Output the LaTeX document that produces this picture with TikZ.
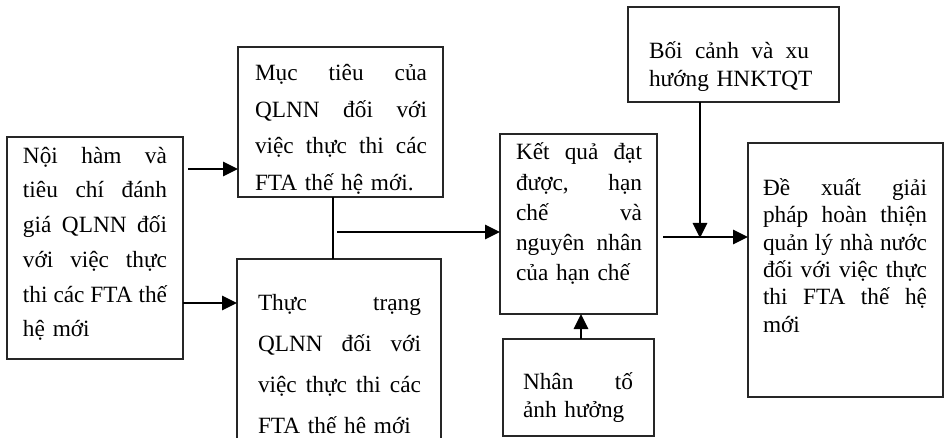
\documentclass[tikz,border=0pt]{standalone}
\usepackage{fontspec}
\setmainfont{Liberation Serif}
\usetikzlibrary{arrows.meta,calc}
\newcommand\jline[2]{\leavevmode\hbox to #1{\spaceskip=0pt\xspaceskip=0pt\relax #2}}
\newcommand\fz[1]{\fontsize{23.3}{#1}\selectfont\parindent=0pt\hyphenpenalty=10000 }
\begin{document}
\begin{tikzpicture}[x=1pt,y=-1pt,
  box/.style={draw=black!85,line width=1.3pt,outer sep=0pt,inner sep=0pt,anchor=north west},
  txt/.style={inner sep=0pt,outer sep=0pt,anchor=north west,align=left},
  arr/.style={line width=2.8pt,-{Triangle[length=15pt,width=14pt]}},
  link/.style={line width=1.4pt}]
\clip (0,0) rectangle (950,438);
\fill[white] (0,0) rectangle (950,438);
% boxes
\node[box,minimum width=176pt,minimum height=222pt] (A) at (7,137) {};
\node[box,minimum width=205pt,minimum height=150pt] (B) at (238,47) {};
\node[box,minimum width=204pt,minimum height=216pt] (C) at (237,259) {};
\node[box,minimum width=157pt,minimum height=180pt] (D) at (500,134) {};
\node[box,minimum width=195pt,minimum height=254pt] (E) at (748,143) {};
\node[box,minimum width=151pt,minimum height=97pt] (F) at (503,339) {};
\node[box,minimum width=211pt,minimum height=95pt] (G) at (628,7) {};
% texts
\node[txt,text width=170pt,font=\fz{34.7}] (tA) at (23,139.0)
  {\strut\jline{144pt}{Nội hàm và}\\\jline{144pt}{tiêu chí đánh}\\\jline{144pt}{giá QLNN đối}\\\jline{144pt}{với việc thực}\\\jline{144pt}{thi các FTA thế}\\\mbox{hệ mới}};
\node[txt,text width=190pt,font=\fz{36.5}] (tB) at (255,55)
  {\strut\jline{172pt}{Mục tiêu của}\\\jline{172pt}{QLNN đối với}\\\jline{172pt}{việc thực thi các}\\\mbox{FTA thế hệ mới.}};
\node[txt,text width=190pt,font=\fz{41}] (tC) at (258,281.8)
  {\strut\jline{163pt}{Thực trạng}\\\jline{163pt}{QLNN đối với}\\\jline{163pt}{việc thực thi các}\\\mbox{FTA thế hê mới}};
\node[txt,text width=150pt,font=\fz{30.3}] (tD) at (516,138.5)
  {\strut\jline{126pt}{Kết quả đạt}\\\jline{126pt}{được, hạn}\\\jline{126pt}{chế và}\\\jline{126pt}{nguyên nhân}\\\mbox{của hạn chế}};
\node[txt,text width=180pt,font=\fz{27.3}] (tE) at (763,176.5)
  {\strut\jline{164pt}{Đề xuất giải}\\\jline{164pt}{pháp hoàn thiện}\\\jline{164pt}{quản lý nhà nước}\\\jline{164pt}{đối với việc thực}\\\jline{164pt}{thi FTA thế hệ}\\\mbox{mới}};
\node[txt,text width=130pt,font=\fz{28}] (tF) at (523,370)
  {\strut\jline{110pt}{Nhân tố}\\\mbox{ảnh hưởng}};
\node[txt,text width=185pt,font=\fz{28}] (tG) at (649,39)
  {\strut\jline{160pt}{Bối cảnh và xu}\\\mbox{hướng HNKTQT}};
% connectors
\draw[arr] ($(A.east |- 0,169)+(5,0)$) -- (B.west |- 0,169);
\draw[arr] (A.east |- 0,303) -- (C.west |- 0,303);
\draw[link] (333,0 |- B.south) -- (333,0 |- C.north);
\coordinate (j) at (337,232);
\draw[arr] (j) -- (D.west |- j);
\draw[arr] ($(D.east |- 0,237)+(6,0)$) -- (E.west |- 0,237);
\coordinate (m) at (700,238);
\draw[arr] (m |- G.south) -- (m);
\draw[arr] (581,0 |- F.north) -- (581,0 |- D.south);
\end{tikzpicture}
\end{document}
